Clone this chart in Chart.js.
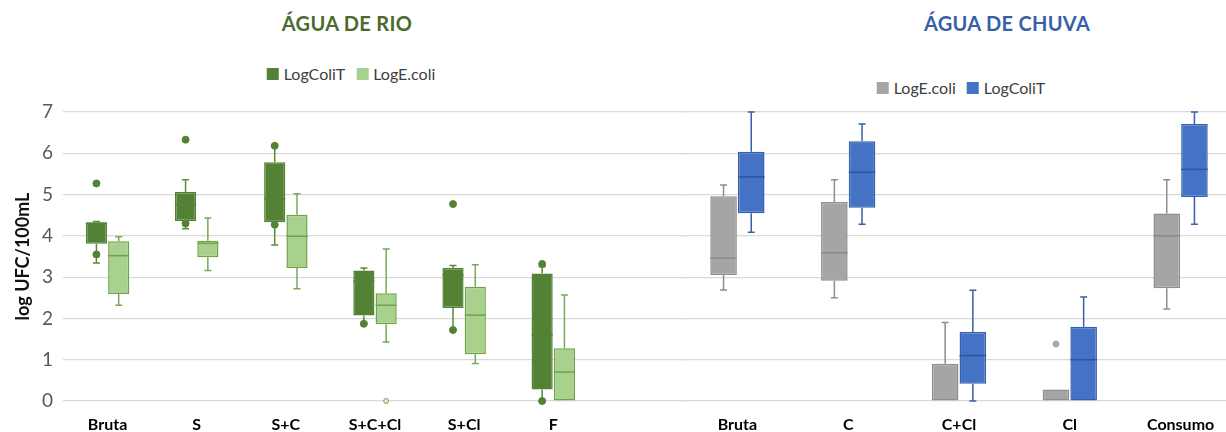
<!DOCTYPE html>
<html>
<head>
<meta charset="utf-8">
<script src="https://cdn.jsdelivr.net/npm/chart.js@4.4.0/dist/chart.umd.min.js"></script>
<style>
  html, body { margin: 0; padding: 0; background: #fff; }
  body { width: 1226px; height: 432px; overflow: hidden; position: relative; font-family: Lato, "Open Sans", sans-serif; }
  .panel { position: absolute; top: 0; height: 432px; }
  .titulo { position: absolute; top: 11px; font-weight: 700; font-size: 20px; transform: translateX(-50%); white-space: nowrap; letter-spacing: 0.3px; }
  .legenda { position: absolute; transform: translateX(-50%); display: flex; align-items: center; white-space: nowrap; font-size: 16px; color: #404040; }
  .legenda .item { display: flex; align-items: center; margin-right: 11px; }
  .legenda .item:last-child { margin-right: 0; }
  .legenda .caixa { width: 12px; height: 12px; margin-right: 5px; }
</style>
</head>
<body>
<div class="titulo" style="left:347px; color:#4a6b2c;">ÁGUA DE RIO</div>
<div class="titulo" style="left:1007px; color:#385fa8;">ÁGUA DE CHUVA</div>
<div class="legenda" id="legRio" style="left:351px; top:64px;"></div>
<div class="legenda" id="legChuva" style="left:961px; top:78px;"></div>
<div class="panel" style="left:0; width:687px;"><canvas id="rio"></canvas></div>
<div class="panel" style="left:682px; width:554px;"><canvas id="chuva"></canvas></div>

<script>
// Escala do eixo Y (log UFC/100mL)
const yMin = 0;
const yMax = 7;
const yStep = 1;

// ---- Água de rio ----
const rioCategorias = ['Bruta', 'S', 'S+C', 'S+C+Cl', 'S+Cl', 'F'];

const rioColiT_min = [3.34, 4.17, 3.78, 1.90, 1.72, 0.00];
const rioColiT_q1  = [3.81, 4.36, 4.33, 2.07, 2.25, 0.28];
const rioColiT_med = [4.30, 4.75, 4.90, 2.90, 3.05, 1.60];
const rioColiT_q3  = [4.33, 5.06, 5.78, 3.16, 3.22, 3.09];
const rioColiT_max = [4.35, 5.36, 6.15, 3.22, 3.28, 3.25];
const rioColiT_out = [[5.27, 3.55], [6.33, 4.30], [6.18, 4.27], [1.87], [4.77, 1.72], [3.32, 0.00]];

const rioEcoli_min = [2.32, 3.16, 2.72, 1.43, 0.91, 0.00];
const rioEcoli_q1  = [2.59, 3.48, 3.22, 1.86, 1.13, 0.00];
const rioEcoli_med = [3.52, 3.82, 3.99, 2.32, 2.08, 0.70];
const rioEcoli_q3  = [3.87, 3.88, 4.51, 2.61, 2.77, 1.28];
const rioEcoli_max = [3.98, 4.43, 5.02, 3.68, 3.30, 2.57];
const rioEcoli_out = [[], [], [], [0.00], [], []];

// ---- Água de chuva ----
const chuvaCategorias = ['Bruta', 'C', 'C+Cl', 'Cl', 'Consumo'];

const chuvaEcoli_min = [2.69, 2.50, 0.00, 0.00, 2.23];
const chuvaEcoli_q1  = [3.05, 2.91, 0.00, 0.00, 2.73];
const chuvaEcoli_med = [3.46, 3.59, 0.00, 0.00, 4.00];
const chuvaEcoli_q3  = [4.96, 4.82, 0.90, 0.28, 4.54];
const chuvaEcoli_max = [5.23, 5.36, 1.90, 0.28, 5.36];
const chuvaEcoli_out = [[], [], [], [1.38], []];

const chuvaColiT_min = [4.09, 4.28, 0.00, 0.00, 4.28];
const chuvaColiT_q1  = [4.55, 4.68, 0.42, 0.00, 4.94];
const chuvaColiT_med = [5.43, 5.54, 1.10, 1.00, 5.61];
const chuvaColiT_q3  = [6.04, 6.29, 1.67, 1.80, 6.71];
const chuvaColiT_max = [7.00, 6.71, 2.68, 2.52, 7.00];
const chuvaColiT_out = [[], [], [], [], []];

const FONTE = 'Lato, "Open Sans", sans-serif';
const GRADE = '#d9d9d9';

function caixas(q1, q3) { return q1.map((v, i) => [v, q3[i]]); }

function serie(label, cores, st) {
  return {
    label: label,
    data: caixas(st.q1, st.q3),
    backgroundColor: cores.fill,
    borderColor: cores.border,
    borderWidth: 1.5,
    borderSkipped: false,
    stats: st,
    whiskerColor: cores.whisker,
    medianColor: cores.median,
    outlier: cores.outlier
  };
}

// Bigodes, mediana e pontos de cada caixa
const bigodes = {
  id: 'bigodes',
  afterDatasetsDraw(chart) {
    const ctx = chart.ctx;
    const y = chart.scales.y;
    chart.data.datasets.forEach((ds, di) => {
      const meta = chart.getDatasetMeta(di);
      const st = ds.stats;
      meta.data.forEach((bar, i) => {
        if (st.q1[i] === undefined) return;
        const x = bar.x, w = bar.width;
        const q1 = st.q1[i], q3 = st.q3[i], med = st.med[i];
        const lo = st.min[i], hi = st.max[i];
        const cap = 3.5;
        ctx.save();
        ctx.lineWidth = 1.5;
        ctx.strokeStyle = ds.whiskerColor;
        ctx.beginPath();
        if (hi > q3) {
          ctx.moveTo(x, y.getPixelForValue(q3));
          ctx.lineTo(x, y.getPixelForValue(hi));
          ctx.moveTo(x - cap, y.getPixelForValue(hi));
          ctx.lineTo(x + cap, y.getPixelForValue(hi));
        }
        if (lo < q1) {
          ctx.moveTo(x, y.getPixelForValue(q1));
          ctx.lineTo(x, y.getPixelForValue(lo));
          ctx.moveTo(x - cap, y.getPixelForValue(lo));
          ctx.lineTo(x + cap, y.getPixelForValue(lo));
        }
        ctx.stroke();
        if (q3 > q1 && med > q1) {
          ctx.strokeStyle = ds.medianColor;
          ctx.beginPath();
          const ym = y.getPixelForValue(med);
          ctx.moveTo(x - w / 2, ym);
          ctx.lineTo(x + w / 2, ym);
          ctx.stroke();
        }
        (st.out[i] || []).forEach(v => {
          const o = ds.outlier;
          ctx.beginPath();
          ctx.arc(x, y.getPixelForValue(v), o.r, 0, Math.PI * 2);
          ctx.fillStyle = o.fill;
          ctx.fill();
          ctx.lineWidth = 1;
          ctx.strokeStyle = o.stroke;
          ctx.stroke();
        });
        ctx.restore();
      });
    });
  }
};

function opcoes(eixoEsquerdo, barPct) {
  return {
    responsive: true,
    maintainAspectRatio: false,
    animation: false,
    layout: { padding: { top: 112, left: 0, right: 0, bottom: 0 } },
    datasets: { bar: { categoryPercentage: 0.5, barPercentage: barPct, grouped: true } },
    plugins: { legend: { display: false }, tooltip: { enabled: false }, title: { display: false } },
    scales: {
      x: {
        grid: { display: false },
        border: { display: false },
        ticks: { color: '#000', font: { family: FONTE, size: 16, weight: 'bold' }, padding: 6, maxRotation: 0, autoSkip: false },
        afterFit(s) { s.height = 31; }
      },
      y: {
        min: yMin, max: yMax,
        grid: { color: GRADE, lineWidth: 1.2, drawTicks: false },
        border: { display: false },
        ticks: {
          display: eixoEsquerdo, stepSize: yStep, padding: 10,
          color: '#595959', font: { family: FONTE, size: 19 }
        },
        title: {
          display: eixoEsquerdo, text: 'log UFC/100mL', color: '#111',
          font: { family: FONTE, size: 18, weight: 'bold' }, padding: { top: 12, bottom: 0 }
        },
        afterFit(s) { s.width = eixoEsquerdo ? 63 : 0; }
      }
    }
  };
}

const verdeEscuro = { fill: '#548235', border: '#548235', whisker: '#5a8a3a', median: '#548235', outlier: { r: 3.5, fill: '#548235', stroke: '#548235' } };
const verdeClaro  = { fill: '#a9d18e', border: '#6fa347', whisker: '#78a85a', median: '#6fa347', outlier: { r: 2.5, fill: '#dcebd1', stroke: '#78a85a' } };
const cinza       = { fill: '#a5a5a5', border: '#8e8e8e', whisker: '#8e8e8e', median: '#8a8a8a', outlier: { r: 3, fill: '#a5a5a5', stroke: '#a5a5a5' } };
const azul        = { fill: '#4472c4', border: '#3560b0', whisker: '#3b5fa8', median: '#2f559c', outlier: { r: 3, fill: '#4472c4', stroke: '#4472c4' } };

const graficoRio = new Chart(document.getElementById('rio'), {
  type: 'bar',
  data: {
    labels: [...rioCategorias, ''],
    datasets: [
      serie('LogColiT', verdeEscuro, { min: rioColiT_min, q1: rioColiT_q1, med: rioColiT_med, q3: rioColiT_q3, max: rioColiT_max, out: rioColiT_out }),
      serie('LogE.coli', verdeClaro, { min: rioEcoli_min, q1: rioEcoli_q1, med: rioEcoli_med, q3: rioEcoli_q3, max: rioEcoli_max, out: rioEcoli_out })
    ]
  },
  options: opcoes(true, 0.95),
  plugins: [bigodes]
});

const graficoChuva = new Chart(document.getElementById('chuva'), {
  type: 'bar',
  data: {
    labels: chuvaCategorias,
    datasets: [
      serie('LogE.coli', cinza, { min: chuvaEcoli_min, q1: chuvaEcoli_q1, med: chuvaEcoli_med, q3: chuvaEcoli_q3, max: chuvaEcoli_max, out: chuvaEcoli_out }),
      serie('LogColiT', azul, { min: chuvaColiT_min, q1: chuvaColiT_q1, med: chuvaColiT_med, q3: chuvaColiT_q3, max: chuvaColiT_max, out: chuvaColiT_out })
    ]
  },
  options: opcoes(false, 0.96),
  plugins: [bigodes]
});

// Legendas a partir das séries de cada gráfico
function legenda(grafico, id) {
  const alvo = document.getElementById(id);
  grafico.data.datasets.forEach(ds => {
    const item = document.createElement('span');
    item.className = 'item';
    const caixa = document.createElement('span');
    caixa.className = 'caixa';
    caixa.style.background = ds.backgroundColor;
    const texto = document.createElement('span');
    texto.textContent = ds.label;
    item.appendChild(caixa);
    item.appendChild(texto);
    alvo.appendChild(item);
  });
}
legenda(graficoRio, 'legRio');
legenda(graficoChuva, 'legChuva');
</script>
</body>
</html>
